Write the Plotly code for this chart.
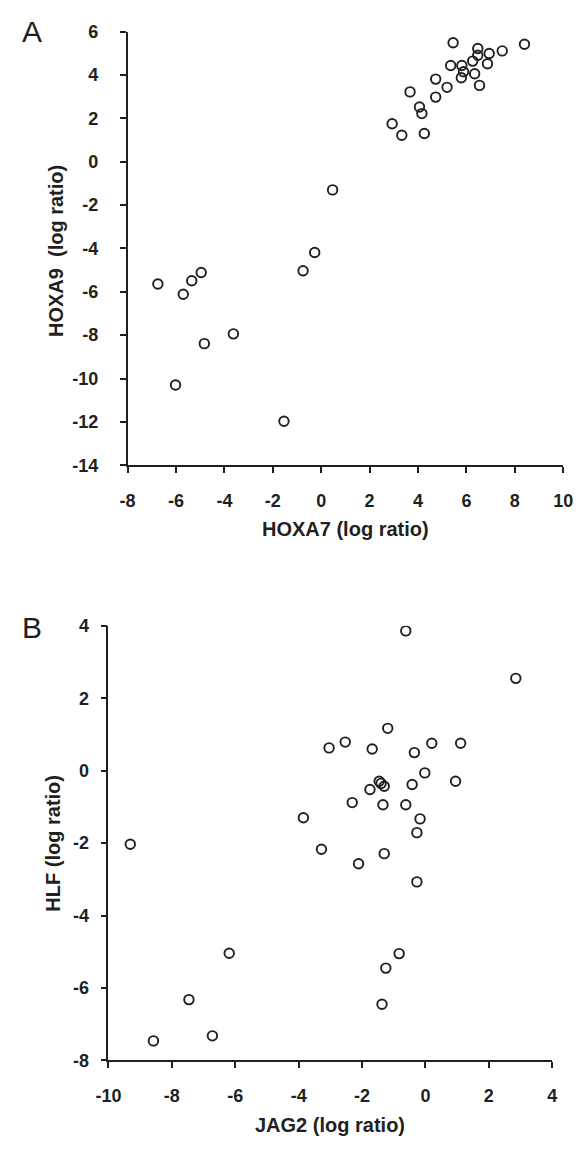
import plotly.graph_objects as go

# Panel A data: HOXA7 vs HOXA9 (log ratio)
hoxa7 = [5.45, 6.47, 8.40, 7.48, 6.94, 6.47, 6.26, 6.87, 5.35, 5.81, 5.88, 6.34,
         5.79, 4.73, 6.54, 5.20, 3.67, 4.73, 4.06, 4.16, 2.93, 3.33, 4.26,
         0.47, -0.27, -0.75, -6.75, -5.70, -5.35, -4.96, -3.63, -4.83, -6.02, -1.54]
hoxa9 = [5.49, 5.22, 5.42, 5.11, 4.99, 4.91, 4.64, 4.52, 4.44, 4.44, 4.15, 4.06,
         3.87, 3.81, 3.52, 3.43, 3.22, 2.98, 2.52, 2.22, 1.75, 1.22, 1.30,
         -1.30, -4.19, -5.03, -5.64, -6.11, -5.49, -5.11, -7.94, -8.39, -10.30, -11.97]

# Panel B data: JAG2 vs HLF (log ratio)
jag2 = [-0.62, 2.85, -1.19, -2.53, -3.04, -1.68, 0.20, 1.11, -0.35, -0.02, 0.95,
        -1.46, -1.40, -1.30, -1.75, -0.42, -2.31, -1.34, -0.62, -3.85, -0.17, -0.27,
        -3.28, -1.30, -2.11, -0.27, -9.31, -6.19, -7.46, -6.72, -8.58, -0.83, -1.25, -1.37]
hlf = [3.86, 2.55, 1.17, 0.79, 0.63, 0.60, 0.76, 0.76, 0.50, -0.06, -0.29,
       -0.29, -0.35, -0.43, -0.52, -0.38, -0.88, -0.94, -0.94, -1.30, -1.33, -1.71,
       -2.17, -2.29, -2.57, -3.07, -2.03, -5.04, -6.32, -7.32, -7.46, -5.05, -5.45, -6.45]

# Tick values (labels use an ASCII hyphen as in the original)
ticks_a_x = [-8, -6, -4, -2, 0, 2, 4, 6, 8, 10]
ticks_a_y = [-14, -12, -10, -8, -6, -4, -2, 0, 2, 4, 6]
ticks_b_x = [-10, -8, -6, -4, -2, 0, 2, 4]
ticks_b_y = [-8, -6, -4, -2, 0, 2, 4]

W, H = 586, 1153
INK = "#231f20"
FONT = "Liberation Sans, Arial, sans-serif"

marker = dict(symbol="circle-open", size=9.5, color=INK, line=dict(width=1.9, color=INK))

fig = go.Figure()
fig.add_trace(go.Scatter(x=hoxa7, y=hoxa9, mode="markers", marker=marker,
                         xaxis="x", yaxis="y", showlegend=False))
fig.add_trace(go.Scatter(x=jag2, y=hlf, mode="markers", marker=marker,
                         xaxis="x2", yaxis="y2", showlegend=False))


def px_x(p):
    return p / W


def px_y(p):
    return 1 - p / H


def lab(vals):
    return ["<b>%d</b>" % v for v in vals]


tickfont = dict(family=FONT, size=18, color=INK)
common = dict(showline=True, linecolor=INK, linewidth=1.7, ticks="outside",
              ticklen=6, tickwidth=1.7, tickcolor=INK, showgrid=False,
              zeroline=False, tickmode="array", tickfont=tickfont, fixedrange=True)

fig.update_layout(
    width=W, height=H,
    margin=dict(l=0, r=0, t=0, b=0),
    paper_bgcolor="white", plot_bgcolor="white",
    xaxis=dict(domain=[px_x(119.3), px_x(572.7)], range=[ticks_a_x[0], ticks_a_x[-1]],
               anchor="y", tickvals=ticks_a_x, ticktext=lab(ticks_a_x),
               ticklabelstandoff=12, **common),
    yaxis=dict(domain=[px_y(463.3), px_y(22)], range=[ticks_a_y[0], ticks_a_y[-1]],
               anchor="x", tickvals=ticks_a_y, ticktext=lab(ticks_a_y),
               ticklabelstandoff=18, **common),
    xaxis2=dict(domain=[px_x(99.3), px_x(561.3)], range=[ticks_b_x[0], ticks_b_x[-1]],
                anchor="y2", tickvals=ticks_b_x, ticktext=lab(ticks_b_x),
                ticklabelstandoff=12, **common),
    yaxis2=dict(domain=[px_y(1069), px_y(626.7)], range=[ticks_b_y[0], ticks_b_y[-1]],
                anchor="x2", tickvals=ticks_b_y, ticktext=lab(ticks_b_y),
                ticklabelstandoff=8, **common),
)

title_font = dict(family=FONT, size=20, color=INK)
annos = [
    dict(text="<b>HOXA7 (log ratio)</b>", x=px_x(346), y=px_y(528), font=title_font),
    dict(text="<b>HOXA9  (log ratio)</b>", x=px_x(44), y=px_y(245), font=title_font, textangle=-90),
    dict(text="<b>JAG2 (log ratio)</b>", x=px_x(330), y=px_y(1135), font=title_font),
    dict(text="<b>HLF (log ratio)</b>", x=px_x(42), y=px_y(848), font=title_font, textangle=-90),
    dict(text="A", x=px_x(20), y=px_y(22), font=dict(family=FONT, size=30, color=INK)),
    dict(text="B", x=px_x(20), y=px_y(628), font=dict(family=FONT, size=30, color=INK)),
]
for a in annos:
    fig.add_annotation(xref="paper", yref="paper", showarrow=False,
                       xanchor="center", yanchor="middle", **a)

fig.write_html("out.html")
